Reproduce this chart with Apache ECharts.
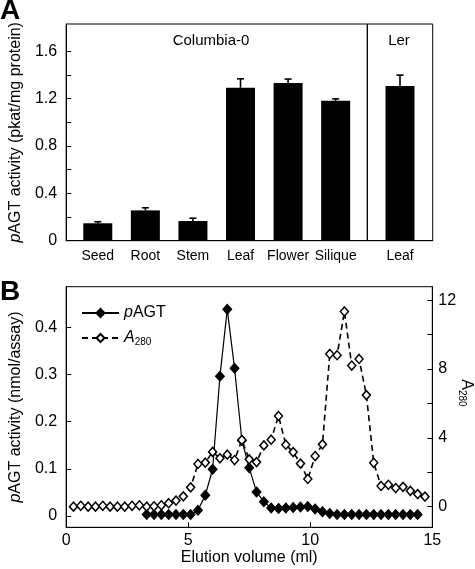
<!DOCTYPE html>
<html>
<head>
<meta charset="utf-8">
<script src="https://cdn.jsdelivr.net/npm/echarts@6/dist/echarts.min.js"></script>
<style>html,body{margin:0;padding:0;background:#fff;}#c{width:475px;height:569px;}</style>
</head>
<body>
<div id="c"></div>
<script>
// ---------- Panel A data ----------
const categoriesCol = ['Seed', 'Root', 'Stem', 'Leaf', 'Flower', 'Silique'];
const valuesCol = [0.147, 0.256, 0.166, 1.291, 1.331, 1.181];
const errorsCol = [0.013, 0.022, 0.024, 0.076, 0.034, 0.017];
const categoriesLer = ['Leaf'];
const valuesLer = [1.306];
const errorsLer = [0.092];
const yLabelsA = [0, 0.4, 0.8, 1.2, 1.6];
const yTicksA = [0, 0.2, 0.4, 0.6, 0.8, 1.0, 1.2, 1.4, 1.6];

// ---------- Panel B data ----------
const pagtX = [3.3, 3.6, 3.9, 4.2, 4.5, 4.8, 5.1, 5.4, 5.7, 6.0, 6.3, 6.6, 6.9, 7.2, 7.5, 7.8, 8.1, 8.4, 8.7, 9.0, 9.3, 9.6, 9.9, 10.2, 10.5, 10.8, 11.1, 11.4, 11.7, 12.0, 12.3, 12.6, 12.9, 13.2, 13.5, 13.8, 14.1, 14.4];
const pagtY = [0.003, 0.003, 0.003, 0.003, 0.003, 0.003, 0.003, 0.012, 0.044, 0.099, 0.296, 0.438, 0.313, 0.16, 0.102, 0.051, 0.03, 0.017, 0.016, 0.017, 0.018, 0.019, 0.02, 0.015, 0.009, 0.005, 0.003, 0.003, 0.003, 0.003, 0.003, 0.003, 0.003, 0.003, 0.003, 0.003, 0.003, 0.003];
const a280X = [0.3, 0.6, 0.9, 1.2, 1.5, 1.8, 2.1, 2.4, 2.7, 3.0, 3.3, 3.6, 3.9, 4.2, 4.5, 4.8, 5.1, 5.4, 5.7, 6.0, 6.3, 6.6, 6.9, 7.2, 7.5, 7.8, 8.1, 8.4, 8.7, 9.0, 9.3, 9.6, 9.9, 10.2, 10.5, 10.8, 11.1, 11.4, 11.7, 12.0, 12.3, 12.6, 12.9, 13.2, 13.5, 13.8, 14.1, 14.4, 14.7];
const a280Y = [0.0, 0.05, 0.0, 0.0, 0.05, 0.0, 0.0, 0.0, 0.05, 0.08, 0.0, 0.02, 0.08, 0.2, 0.35, 0.6, 1.12, 2.48, 2.56, 3.18, 2.81, 3.02, 2.71, 3.87, 2.75, 2.59, 3.56, 3.89, 5.27, 3.6, 3.17, 2.5, 1.61, 2.94, 3.62, 8.87, 8.8, 11.34, 8.2, 8.58, 6.48, 2.55, 1.2, 1.27, 1.08, 1.15, 0.92, 0.73, 0.58];
const xTicksB = [0, 5, 10, 15];
const yTicksBLeft = [0, 0.1, 0.2, 0.3, 0.4];
const yTicksBRight = [0, 2, 4, 6, 8, 10, 12];
const yLabelsBRight = [0, 4, 8, 12];

const FONT = "'Liberation Sans', Arial, sans-serif";
const BLACK = '#000';

const chart = echarts.init(document.getElementById('c'), null, {renderer: 'canvas'});

function errorRender(params, api) {
  const x = api.value(0), y = api.value(1), e = api.value(2);
  const p0 = api.coord([x, y]);
  const p1 = api.coord([x, y + e]);
  return {
    type: 'group',
    children: [
      {type: 'line', shape: {x1: p0[0], y1: p0[1], x2: p1[0], y2: p1[1]}, style: {stroke: BLACK, lineWidth: 1.6}},
      {type: 'line', shape: {x1: p1[0] - 3.5, y1: p1[1], x2: p1[0] + 3.5, y2: p1[1]}, style: {stroke: BLACK, lineWidth: 1.6}}
    ]
  };
}

const axisLineBlack = {show: true, onZero: false, lineStyle: {color: BLACK, width: 1}};
const tickIn = {show: true, inside: true, length: 5, lineStyle: {color: BLACK, width: 1}};
const labelStyle = {color: BLACK, fontFamily: FONT, fontSize: 16};

const option = {
  animation: false,
  backgroundColor: '#fff',
  textStyle: {fontFamily: FONT, color: BLACK},
  grid: [
    {left: 56, top: 24, width: 311.3, height: 216.7, show: true, borderColor: BLACK, borderWidth: 1, backgroundColor: 'transparent'},
    {left: 367.3, top: 24, width: 65.4, height: 216.7, show: true, borderColor: BLACK, borderWidth: 1, backgroundColor: 'transparent'},
    {left: 54.7, top: 286.7, width: 377.6, height: 240.6, show: true, borderColor: BLACK, borderWidth: 1, backgroundColor: 'transparent'}
  ],
  xAxis: [
    {
      gridIndex: 0, type: 'value', min: 0.335, max: 6.665,
      axisLine: axisLineBlack, axisTick: {show: false}, splitLine: {show: false},
      axisLabel: {
        customValues: categoriesCol.map((c, i) => i + 1),
        formatter: v => categoriesCol[Math.round(v) - 1] || '',
        color: BLACK, fontFamily: FONT, fontSize: 14, margin: 8
      }
    },
    {
      gridIndex: 1, type: 'category', data: categoriesLer, boundaryGap: true,
      axisLine: axisLineBlack, axisTick: {show: false}, splitLine: {show: false},
      axisLabel: {color: BLACK, fontFamily: FONT, fontSize: 14, margin: 8}
    },
    {
      gridIndex: 2, type: 'value', min: 0, max: 15, interval: 5,
      axisLine: axisLineBlack, axisTick: tickIn, splitLine: {show: false},
      axisLabel: Object.assign({margin: 5, customValues: xTicksB}, labelStyle),
      name: 'Elution volume (ml)', nameLocation: 'middle', nameGap: 17,
      nameTextStyle: {color: BLACK, fontFamily: FONT, fontSize: 16}
    }
  ],
  yAxis: [
    {
      gridIndex: 0, type: 'value', min: 0, max: 1.83,
      axisLine: axisLineBlack,
      axisTick: Object.assign({customValues: yTicksA}, tickIn),
      splitLine: {show: false},
      axisLabel: Object.assign({margin: 9, customValues: yLabelsA, formatter: v => (v === 0 ? '0' : v.toFixed(1))}, labelStyle),
      name: '{i|p}AGT activity (pkat/mg protein)', nameLocation: 'middle', nameGap: 39,
      nameTextStyle: {color: BLACK, fontFamily: FONT, fontSize: 16, rich: {i: {fontStyle: 'italic', fontFamily: FONT, fontSize: 16, color: BLACK}}}
    },
    {
      gridIndex: 1, type: 'value', min: 0, max: 1.83, show: false
    },
    {
      gridIndex: 2, type: 'value', min: -0.024, max: 0.486, position: 'left',
      axisLine: axisLineBlack,
      axisTick: Object.assign({customValues: yTicksBLeft}, tickIn),
      splitLine: {show: false},
      axisLabel: Object.assign({margin: 9, customValues: yTicksBLeft, formatter: v => (v === 0 ? '0' : v.toFixed(1))}, labelStyle),
      name: '{i|p}AGT activity (nmol/assay)', nameLocation: 'middle', nameGap: 38,
      nameTextStyle: {color: BLACK, fontFamily: FONT, fontSize: 16, rich: {i: {fontStyle: 'italic', fontFamily: FONT, fontSize: 16, color: BLACK}}}
    },
    {
      gridIndex: 2, type: 'value', min: -1.2, max: 12.78, position: 'right',
      axisLine: axisLineBlack,
      axisTick: Object.assign({customValues: yTicksBRight}, tickIn),
      splitLine: {show: false},
      axisLabel: Object.assign({margin: 6, customValues: yLabelsBRight}, labelStyle)
    }
  ],
  legend: {
    left: 76, top: 300, orient: 'vertical', itemWidth: 37, itemHeight: 10, itemGap: 9,
    data: ['pAGT', 'A280'],
    formatter: n => (n === 'pAGT' ? '{i|p}{n|AGT}' : '{ia|A}{s|280}'),
    textStyle: {
      color: BLACK, fontFamily: FONT, fontSize: 16,
      rich: {
        i: {fontStyle: 'italic', fontFamily: FONT, fontSize: 16, color: BLACK},
        n: {fontFamily: FONT, fontSize: 16, color: BLACK},
        ia: {fontStyle: 'italic', fontFamily: FONT, fontSize: 16, color: BLACK},
        s: {fontFamily: FONT, fontSize: 10, color: BLACK, verticalAlign: 'bottom', padding: [8, 0, 0, 0]}
      }
    }
  },
  graphic: [
    {type: 'text', left: 0, top: -3, style: {text: 'A', font: "bold 28px " + FONT, fill: BLACK}},
    {type: 'text', left: 0, top: 278, style: {text: 'B', font: "bold 28px " + FONT, fill: BLACK}},
    {type: 'text', x: 211, y: 41, style: {text: 'Columbia-0', font: "15px " + FONT, fill: BLACK, align: 'center', verticalAlign: 'middle'}},
    {type: 'text', x: 399, y: 41, style: {text: 'Ler', font: "15px " + FONT, fill: BLACK, align: 'center', verticalAlign: 'middle'}},
    {type: 'text', x: 466, y: 393, rotation: -Math.PI / 2,
      style: {text: '{a|A}{s|280}', align: 'center', verticalAlign: 'middle', fill: BLACK,
        rich: {a: {fontFamily: FONT, fontSize: 16, fill: BLACK}, s: {fontFamily: FONT, fontSize: 10, fill: BLACK, verticalAlign: 'bottom', padding: [8, 0, 0, 0]}}}}
  ],
  series: [
    {
      type: 'bar', xAxisIndex: 0, yAxisIndex: 0, barWidth: 29,
      itemStyle: {color: BLACK},
      data: valuesCol.map((v, i) => [i + 1, v])
    },
    {
      type: 'custom', xAxisIndex: 0, yAxisIndex: 0, renderItem: errorRender, z: 5,
      data: valuesCol.map((v, i) => [i + 1, v, errorsCol[i]])
    },
    {
      type: 'bar', xAxisIndex: 1, yAxisIndex: 1, barWidth: 29,
      itemStyle: {color: BLACK},
      data: valuesLer
    },
    {
      type: 'custom', xAxisIndex: 1, yAxisIndex: 1, renderItem: errorRender, z: 5,
      data: valuesLer.map((v, i) => [i, v, errorsLer[i]])
    },
    {
      name: 'pAGT', type: 'line', xAxisIndex: 2, yAxisIndex: 2,
      symbol: 'diamond', symbolSize: [9, 10], showSymbol: true,
      itemStyle: {color: BLACK, borderColor: BLACK, borderWidth: 1},
      lineStyle: {color: BLACK, width: 1.2, type: 'solid'},
      data: pagtX.map((x, i) => [x, pagtY[i]]), z: 3
    },
    {
      name: 'A280', type: 'line', xAxisIndex: 2, yAxisIndex: 3,
      symbol: 'diamond', symbolSize: [8, 9], showSymbol: true,
      itemStyle: {color: '#fff', borderColor: BLACK, borderWidth: 1.5},
      lineStyle: {color: BLACK, width: 1.6, type: [6, 4]},
      data: a280X.map((x, i) => [x, a280Y[i]]), z: 4
    }
  ]
};
chart.setOption(option);
</script>
</body>
</html>
